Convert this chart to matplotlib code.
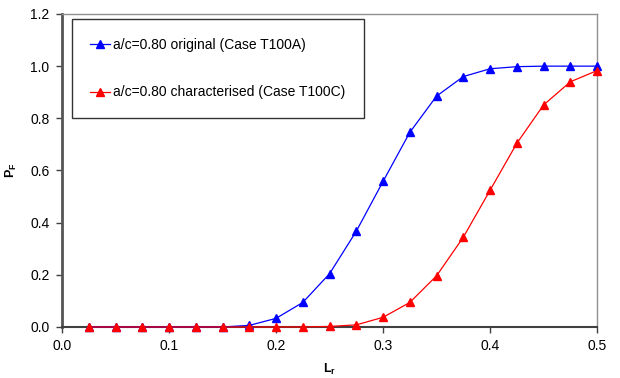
import matplotlib
matplotlib.use('Agg')
import matplotlib.pyplot as plt
import numpy as np

plt.rcParams['font.family'] = ['Liberation Sans', 'DejaVu Sans']
plt.rcParams['mathtext.fontset'] = 'custom'
plt.rcParams['mathtext.rm'] = 'Liberation Sans'
plt.rcParams['mathtext.bf'] = 'Liberation Sans:bold'

# data
lr = [0.025, 0.05, 0.075, 0.1, 0.125, 0.15, 0.175, 0.2, 0.225, 0.25,
      0.275, 0.3, 0.325, 0.35, 0.375, 0.4, 0.425, 0.45, 0.475, 0.5]
pf_original = [0, 0, 0, 0, 0, 0, 0.006, 0.033, 0.094, 0.204,
               0.367, 0.558, 0.746, 0.885, 0.96, 0.99, 0.998, 1.0, 1.0, 1.0]
pf_charact = [0, 0, 0, 0, 0, 0, 0, 0, 0, 0.002,
              0.008, 0.037, 0.094, 0.196, 0.344, 0.524, 0.704, 0.851, 0.94, 0.983]

label_orig = 'a/c=0.80 original (Case T100A)'
label_char = 'a/c=0.80 characterised (Case T100C)'

fig = plt.figure(figsize=(6.2, 3.78), dpi=100)
ax = fig.add_axes([0.1, 0.135, 0.863, 0.828])

ax.plot(lr, pf_original, color='#0000ff', lw=0.9, marker='^', ms=5.5,
        label=label_orig, clip_on=False, zorder=3)
ax.plot(lr, pf_charact, color='#ff0000', lw=0.9, marker='^', ms=5.5,
        label=label_char, clip_on=False, zorder=4)

ax.set_xlim(0, 0.5)
ax.set_ylim(0, 1.2)
ax.set_xticks(np.arange(0, 0.51, 0.1))
ax.set_yticks(np.arange(0, 1.21, 0.2))
ax.set_xticklabels(['%.1f' % v for v in np.arange(0, 0.51, 0.1)])
ax.set_yticklabels(['%.1f' % v for v in np.arange(0, 1.21, 0.2)])
ax.tick_params(direction='out', length=4, width=1, labelsize=10, color='#404040', pad=5)

for s in ['top', 'right']:
    ax.spines[s].set_color('#909090')
    ax.spines[s].set_linewidth(1)
ax.spines['left'].set_color('#555555')
ax.spines['left'].set_linewidth(2)
ax.spines['bottom'].set_color('#404040')
ax.spines['bottom'].set_linewidth(1.5)

ax.set_xlabel(r'$\mathbf{L_r}$', fontsize=9, labelpad=6)
ax.set_ylabel(r'$\mathbf{P_F}$', fontsize=9, labelpad=8, rotation=90)

leg = ax.legend(loc='upper left', bbox_to_anchor=(0.018, 0.983), fontsize=10,
                frameon=True, fancybox=False, handlelength=1.4, handletextpad=0.25,
                labelspacing=2.4, borderpad=1.35, borderaxespad=0)
leg.get_frame().set_edgecolor('black')
leg.get_frame().set_linewidth(1)

fig.savefig('out.png', dpi=100)
